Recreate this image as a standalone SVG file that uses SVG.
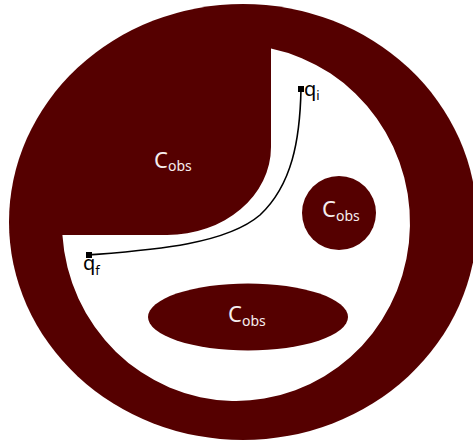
<svg xmlns="http://www.w3.org/2000/svg" width="473" height="442" viewBox="0 0 473 442">
  <style>
    .obs { fill: #550000; }
    .free { fill: #ffffff; }
    .lbl { font-family: "Noto Sans", "DejaVu Sans", sans-serif; fill: #f6eeee; font-size: 22px; }
    .sub { font-size: 14px; }
    .pt { font-family: "Noto Sans", "DejaVu Sans", sans-serif; fill: #000000; font-size: 20px; }
    .psub { font-size: 13px; }
    .path { fill: none; stroke: #000000; stroke-width: 1.6; }
  </style>
  <rect width="473" height="442" fill="#ffffff"/>
  <g id="outer-obstacle">
    <ellipse class="obs" cx="243" cy="222" rx="234" ry="218"/>
    <path class="free" d="M271,48.6 A174,178 0 1 1 62.4,235 L167,235 A104,88 0 0 0 271,147 Z"/>
    <text class="lbl" x="154" y="168">C<tspan class="sub" dy="3">obs</tspan></text>
  </g>
  <g id="circle-obstacle">
    <circle class="obs" cx="339" cy="213" r="37"/>
    <text class="lbl" x="322" y="217">C<tspan class="sub" dy="4">obs</tspan></text>
  </g>
  <g id="ellipse-obstacle">
    <ellipse class="obs" cx="248" cy="317" rx="100" ry="33.5"/>
    <text class="lbl" x="228" y="322">C<tspan class="sub" dy="4">obs</tspan></text>
  </g>
  <g id="connectors">
    <path class="path" d="M301,89 C300,140 292,185 260,215 C225,245 150,250 89,255"/>
  </g>
  <g id="qi">
    <rect x="298" y="86" width="6" height="6" fill="#000"/>
    <text class="pt" x="304" y="96">q<tspan class="psub" dy="4">i</tspan></text>
  </g>
  <g id="qf">
    <rect x="86" y="252" width="6" height="6" fill="#000"/>
    <text class="pt" x="83" y="270">q<tspan class="psub" dy="5">f</tspan></text>
  </g>
</svg>
